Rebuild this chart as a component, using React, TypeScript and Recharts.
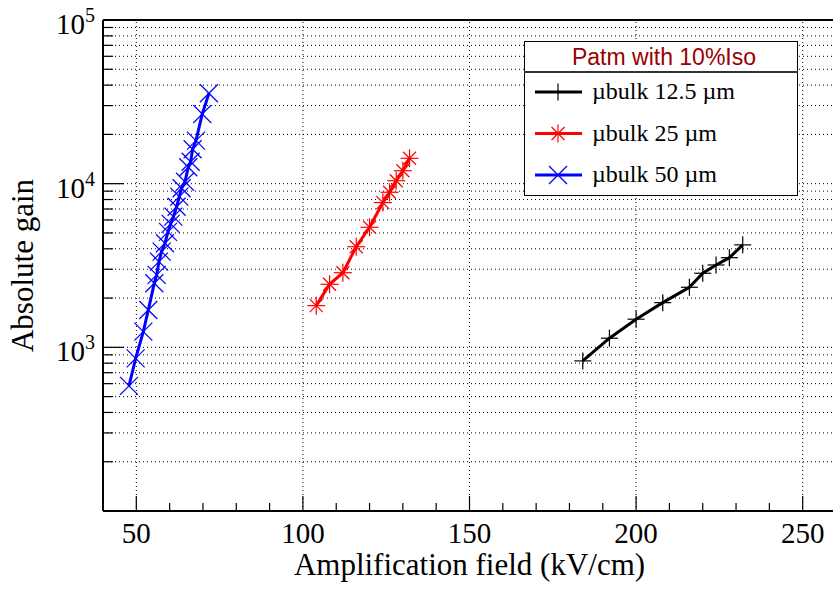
import React from 'react';
import { ScatterChart, Scatter, XAxis, YAxis, CartesianGrid, ReferenceLine, Legend, Label } from 'recharts';

const SERIF = '"Liberation Serif", "Times New Roman", serif';
const SANS = '"Liberation Sans", Arial, sans-serif';

// microbulk 12.5 um
const field125 = [184, 192, 200, 208, 216, 220, 224, 228, 232];
const gain125 = [826, 1137, 1486, 1875, 2328, 2836, 3186, 3530, 4227];

// microbulk 25 um
const field25 = [104, 108, 112, 116, 120, 124, 126, 128, 130, 132];
const gain25 = [1798, 2428, 2857, 4118, 5416, 7660, 8860, 10420, 12000, 14290];

// microbulk 50 um
const field50 = [47.8, 49.8, 52.1, 53.6, 55.4, 56.1, 56.8, 57.6, 58.6, 59.5, 60.3, 61.1, 62.1, 62.9, 63.6, 64.6, 65.6, 66.3, 66.9, 67.9, 69.8, 71.8];
const gain50 = [581, 857, 1247, 1692, 2464, 2770, 3340, 3846, 4325, 5070, 5675, 6285, 7230, 8330, 9370, 10280, 12590, 13620, 16220, 18320, 26650, 35660];

const xTicks = [40, 50, 60, 70, 80, 90, 100, 110, 120, 130, 140, 150, 160, 170, 180, 190, 200, 210, 220, 230, 240, 250, 260];
const xGrid = [50, 100, 150, 200, 250];
const yTicks = [
  100, 200, 300, 400, 500, 600, 700, 800, 900,
  1000, 2000, 3000, 4000, 5000, 6000, 7000, 8000, 9000,
  10000, 20000, 30000, 40000, 50000, 60000, 70000, 80000, 90000, 100000,
];

type Kind = 'plus' | 'star' | 'cross';

const series = [
  { name: 'µbulk 12.5 µm', color: '#000000', kind: 'plus' as Kind, data: field125.map((x, i) => ({ x, y: gain125[i] })) },
  { name: 'µbulk 25 µm', color: '#ff0000', kind: 'star' as Kind, data: field25.map((x, i) => ({ x, y: gain25[i] })) },
  { name: 'µbulk 50 µm', color: '#0000ff', kind: 'cross' as Kind, data: field50.map((x, i) => ({ x, y: gain50[i] })) },
];

const Marker = ({ cx, cy, kind, color }: { cx: number; cy: number; kind: Kind; color: string }) => {
  const p = { stroke: color, strokeWidth: 1.2 };
  if (kind === 'plus') {
    return (
      <g>
        <line x1={cx - 8.5} x2={cx + 8.5} y1={cy} y2={cy} {...p} />
        <line x1={cx} x2={cx} y1={cy - 8.5} y2={cy + 8.5} {...p} />
      </g>
    );
  }
  if (kind === 'star') {
    return (
      <g>
        <line x1={cx - 9} x2={cx + 9} y1={cy} y2={cy} {...p} />
        <line x1={cx} x2={cx} y1={cy - 9} y2={cy + 9} {...p} />
        <line x1={cx - 6.5} x2={cx + 6.5} y1={cy - 6.5} y2={cy + 6.5} {...p} />
        <line x1={cx - 6.5} x2={cx + 6.5} y1={cy + 6.5} y2={cy - 6.5} {...p} />
      </g>
    );
  }
  return (
    <g>
      <line x1={cx - 9} x2={cx + 9} y1={cy - 9} y2={cy + 9} {...p} />
      <line x1={cx - 9} x2={cx + 9} y1={cy + 9} y2={cy - 9} {...p} />
    </g>
  );
};

const XTick = (props: any) => {
  const { x, y, payload } = props;
  const v = payload.value;
  const major = v % 50 === 0;
  return (
    <g>
      <line x1={x} x2={x} y1={y} y2={y - (major ? 15 : 8)} stroke="#000" strokeWidth={1.2} />
      {major && (
        <text x={x} y={y + 32} textAnchor="middle" fontFamily={SERIF} fontSize={29} fill="#000">
          {v}
        </text>
      )}
    </g>
  );
};

const YTick = (props: any) => {
  const { x, y, payload } = props;
  const lg = Math.log10(payload.value);
  const exp = Math.round(lg);
  const major = Math.abs(lg - exp) < 1e-6;
  return (
    <g>
      <line x1={x} x2={x + (major ? 21 : 10)} y1={y} y2={y} stroke="#000" strokeWidth={1.2} />
      {major && exp > 2 && (
        <text x={x - 8} y={y + 14} textAnchor="end" fontFamily={SERIF} fontSize={29} fill="#000">
          10
          <tspan dy={-12} fontSize={20}>
            {exp}
          </tspan>
        </text>
      )}
    </g>
  );
};

const LegendBox = () => (
  <svg width={274} height={155}>
    <rect x={0.5} y={0.5} width={273} height={154} fill="#fff" stroke="#000" strokeWidth={1} />
    <line x1={0} x2={274} y1={31} y2={31} stroke="#333" strokeWidth={2} />
    <text x={140} y={24} textAnchor="middle" fontFamily={SANS} fontSize={23} fill="#990000">
      Patm with 10%Iso
    </text>
    {series.map((s, i) => {
      const cy = 51 + i * 41.5;
      return (
        <g key={s.name}>
          <line x1={11} x2={58} y1={cy} y2={cy} stroke={s.color} strokeWidth={3} />
          <Marker cx={34} cy={cy} kind={s.kind} color={s.color} />
          <text x={68} y={cy + 7} fontFamily={SERIF} fontSize={24} fill="#000">
            {s.name}
          </text>
        </g>
      );
    })}
  </svg>
);

export default function App() {
  return (
    <div style={{ position: 'absolute', left: 0, top: 0, width: 833, height: 590, overflow: 'hidden', background: '#fff' }}>
      <ScatterChart width={840} height={590} margin={{ top: 20, right: 4, bottom: 0, left: 0 }}>
        <CartesianGrid vertical={false} stroke="#000" strokeDasharray="1 3" />
        {xGrid.map((v) => (
          <ReferenceLine key={v} x={v} stroke="#000" strokeDasharray="1 3" />
        ))}
        <ReferenceLine y={100000} stroke="#000" strokeWidth={2} />
        <XAxis
          type="number"
          dataKey="x"
          domain={[40, 260]}
          ticks={xTicks}
          interval={0}
          allowDataOverflow
          height={79}
          tickLine={false}
          tickSize={0}
          tickMargin={0}
          axisLine={{ stroke: '#000', strokeWidth: 2 }}
          tick={(p: any) => <XTick {...p} />}
        >
          <Label
            value="Amplification field (kV/cm)"
            position="insideBottom"
            offset={15}
            style={{ fontSize: 31, fontFamily: SERIF, fill: '#000' }}
          />
        </XAxis>
        <YAxis
          type="number"
          dataKey="y"
          scale="log"
          domain={[100, 100000]}
          ticks={yTicks}
          interval={0}
          allowDataOverflow
          width={103}
          tickLine={false}
          tickSize={0}
          tickMargin={0}
          axisLine={{ stroke: '#000', strokeWidth: 2 }}
          tick={(p: any) => <YTick {...p} />}
        >
          <Label
            value="Absolute gain"
            angle={-90}
            position="insideLeft"
            offset={22}
            style={{ fontSize: 31, fontFamily: SERIF, fill: '#000', textAnchor: 'middle' }}
          />
        </YAxis>
        <Legend
          layout="horizontal"
          verticalAlign="middle"
          align="center"
          wrapperStyle={{ left: 524, top: 41, width: 274, height: 155 }}
          content={() => <LegendBox />}
        />
        {series.map((s) => (
          <Scatter
            key={s.name}
            name={s.name}
            data={s.data}
            fill={s.color}
            line={{ stroke: s.color, strokeWidth: 3 }}
            lineType="joint"
            isAnimationActive={false}
            shape={(p: any) => <Marker cx={p.cx} cy={p.cy} kind={s.kind} color={s.color} />}
          />
        ))}
      </ScatterChart>
    </div>
  );
}
